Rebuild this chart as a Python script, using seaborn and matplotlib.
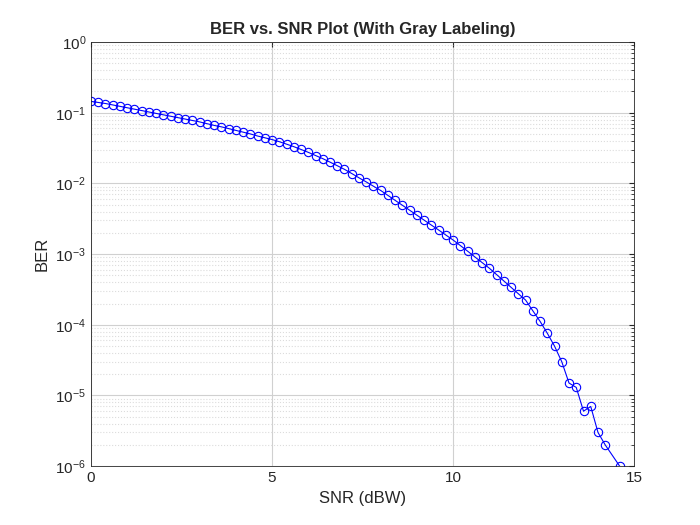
import seaborn as sns
import matplotlib.pyplot as plt
import pandas as pd

# SNR values (dBW); the 14.4 point had zero errors and is not plotted
snr = [0.0, 0.2, 0.4, 0.6, 0.8, 1.0, 1.2, 1.4, 1.6, 1.8,
       2.0, 2.2, 2.4, 2.6, 2.8, 3.0, 3.2, 3.4, 3.6, 3.8,
       4.0, 4.2, 4.4, 4.6, 4.8, 5.0, 5.2, 5.4, 5.6, 5.8,
       6.0, 6.2, 6.4, 6.6, 6.8, 7.0, 7.2, 7.4, 7.6, 7.8,
       8.0, 8.2, 8.4, 8.6, 8.8, 9.0, 9.2, 9.4, 9.6, 9.8,
       10.0, 10.2, 10.4, 10.6, 10.8, 11.0, 11.2, 11.4, 11.6, 11.8,
       12.0, 12.2, 12.4, 12.6, 12.8, 13.0, 13.2, 13.4, 13.6, 13.8,
       14.0, 14.2, 14.6]

ber = [0.1445, 0.1396, 0.1349, 0.1288, 0.1230, 0.1175, 0.1122, 0.1072, 0.1023, 0.0977,
       0.0933, 0.0891, 0.0851, 0.0813, 0.0776, 0.0741, 0.0700, 0.0661, 0.0631, 0.0596,
       0.0562, 0.0531, 0.0501, 0.0468, 0.0442, 0.0417, 0.0389, 0.0359, 0.0331, 0.0302,
       0.0275, 0.0248, 0.0224, 0.0200, 0.0178, 0.0158, 0.0138, 0.0120, 0.0105, 0.00912,
       0.00794, 0.00676, 0.00575, 0.00490, 0.00417, 0.00355, 0.00302, 0.00257, 0.00219, 0.00186,
       0.00158, 0.00132, 0.00110, 9.12e-4, 7.59e-4, 6.31e-4, 5.13e-4, 4.17e-4, 3.39e-4, 2.75e-4,
       2.24e-4, 1.58e-4, 1.12e-4, 7.6e-5, 5.0e-5, 3.0e-5, 1.5e-5, 1.3e-5, 6e-6, 7e-6,
       3e-6, 2e-6, 1e-6]

df = pd.DataFrame({"SNR": snr, "BER": ber})

sns.set_style("white")
plt.rcParams['font.family'] = ['Liberation Sans', 'DejaVu Sans']

fig, ax = plt.subplots(figsize=(7, 5.25), dpi=100)
fig.subplots_adjust(left=0.13, right=0.906, top=0.92, bottom=0.112)

sns.lineplot(data=df, x="SNR", y="BER", ax=ax, color="#0000ff", linewidth=0.8,
             marker="o", markersize=6, markerfacecolor="none",
             markeredgecolor="#0000ff", markeredgewidth=0.8)

ax.set_yscale("log")
ax.set_xlim(0, 15)
ax.set_ylim(1e-6, 1)
ax.set_xticks([0, 5, 10, 15])
ax.grid(True, which="major", color="#d0d0d0", linewidth=0.8)
ax.grid(True, which="minor", color="#dcdcdc", linestyle=":", linewidth=0.8)
for s in ax.spines.values():
    s.set_color("#262626")
    s.set_linewidth(0.6)
ax.tick_params(which="both", direction="in", top=True, right=True, labelsize=11, colors="#262626")
ax.tick_params(which="minor", length=2)

ax.set_xlabel("SNR (dBW)", fontsize=12, color="#262626")
ax.set_ylabel("BER", fontsize=12, color="#262626")
ax.set_title("BER vs. SNR Plot (With Gray Labeling)", fontsize=12, fontweight="bold")

plt.savefig("out.png")
